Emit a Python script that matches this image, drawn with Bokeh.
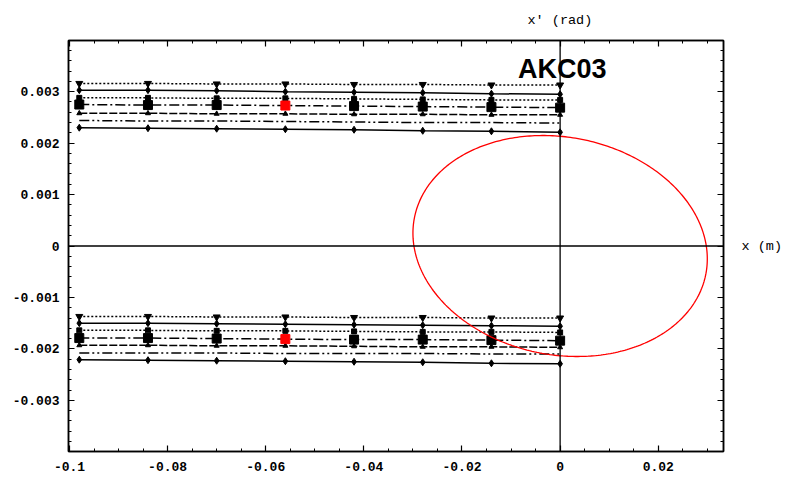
import numpy as np
from bokeh.plotting import figure
from bokeh.models import (Range1d, LinearAxis, SingleIntervalTicker, Span, Label, Title,
                          CustomJSTickFormatter, ColumnDataSource)
from bokeh.embed import file_html
from bokeh.resources import INLINE

# ---------------- data ----------------
x_pts = [-0.098, -0.084, -0.070, -0.056, -0.042, -0.028, -0.014, 0.0]

upper_A = [0.00316, 0.00316, 0.00315, 0.00315, 0.00314, 0.00314, 0.00313, 0.00313]
upper_B = [0.00303, 0.00303, 0.00302, 0.00300, 0.00299, 0.00298, 0.00296, 0.00295]
upper_C = [0.00288, 0.00288, 0.00287, 0.00287, 0.00286, 0.00285, 0.00284, 0.00284]
upper_D = [0.00275, 0.00274, 0.00274, 0.00273, 0.00272, 0.00271, 0.00270, 0.00269]
upper_E = [0.00258, 0.00258, 0.00257, 0.00257, 0.00256, 0.00256, 0.00255, 0.00255]
upper_F = [0.00244, 0.00243, 0.00243, 0.00242, 0.00241, 0.00240, 0.00240, 0.00239]
upper_G = [0.00230, 0.00229, 0.00228, 0.00227, 0.00226, 0.00224, 0.00223, 0.00221]

lower_A = [-0.00137, -0.00137, -0.00138, -0.00138, -0.00139, -0.00139, -0.00140, -0.00140]
lower_B = [-0.00150, -0.00150, -0.00151, -0.00152, -0.00153, -0.00154, -0.00155, -0.00156]
lower_C = [-0.00164, -0.00164, -0.00165, -0.00165, -0.00166, -0.00167, -0.00167, -0.00168]
lower_D = [-0.00179, -0.00179, -0.00180, -0.00181, -0.00182, -0.00182, -0.00183, -0.00184]
lower_E = [-0.00193, -0.00193, -0.00194, -0.00194, -0.00195, -0.00196, -0.00196, -0.00197]
lower_F = [-0.00208, -0.00208, -0.00208, -0.00209, -0.00209, -0.00209, -0.00210, -0.00210]
lower_G = [-0.00221, -0.00222, -0.00223, -0.00224, -0.00225, -0.00226, -0.00228, -0.00229]

highlight_index = 3  # red square at x = -0.056

# acceptance ellipse (Twiss parameters)
ellipse_emittance = 6.4e-5
ellipse_beta = 14.06
ellipse_alpha = 0.117

title_text = "AKC03"
x_label = "x (m)"
y_label = "x' (rad)"

# ---------------- figure ----------------
p = figure(width=787, height=478, output_backend="svg", toolbar_location=None,
           x_range=Range1d(-0.1002, 0.0333), y_range=Range1d(-0.003995, 0.003995),
           min_border_left=68, min_border_right=64, min_border_top=40,
           min_border_bottom=27, x_axis_location=None, y_axis_location=None)
p.background_fill_color = "white"
p.border_fill_color = "white"
p.grid.visible = False
p.outline_line_color = "black"
p.outline_line_width = 1.5

fmt = CustomJSTickFormatter(code="return String(parseFloat(tick.toFixed(6)));")
blank = CustomJSTickFormatter(code="return '';")

def style_axis(ax, labels):
    ax.axis_line_color = "black"
    ax.axis_line_width = 1.5
    ax.major_tick_in = 6
    ax.major_tick_out = 0
    ax.minor_tick_in = 3
    ax.minor_tick_out = 0
    ax.major_tick_line_width = 1.2
    ax.minor_tick_line_width = 1.0
    ax.major_label_text_font = "Liberation Mono"
    ax.major_label_text_font_style = "bold"
    ax.major_label_text_font_size = "13px"
    ax.major_label_text_color = "black"
    ax.formatter = fmt if labels else blank

for loc, lab in (("below", True), ("above", False)):
    ax = LinearAxis(ticker=SingleIntervalTicker(interval=0.02, num_minor_ticks=4))
    style_axis(ax, lab)
    ax.major_label_standoff = 10
    if not lab:
        ax.major_label_standoff = 0
        ax.major_label_text_font_size = "1px"
    p.add_layout(ax, loc)

for loc, lab in (("left", True), ("right", False)):
    ax = LinearAxis(ticker=SingleIntervalTicker(interval=0.001, num_minor_ticks=5))
    style_axis(ax, lab)
    ax.major_label_standoff = 9
    if not lab:
        ax.major_label_standoff = 0
        ax.major_label_text_font_size = "1px"
        ax.axis_label = x_label
        ax.axis_label_orientation = "horizontal"
        ax.axis_label_standoff = 18
        ax.axis_label_text_font = "Liberation Mono"
        ax.axis_label_text_font_style = "normal"
        ax.axis_label_text_font_size = "13.5px"
        ax.axis_label_text_color = "black"
    p.add_layout(ax, loc)

p.add_layout(Title(text=y_label, align="left", offset=459, text_font="Liberation Mono",
                   text_font_style="normal", text_font_size="13.5px", text_color="black",
                   standoff=22, vertical_align="top"), "above")

# axes through the origin
p.add_layout(Span(location=0, dimension="width", line_color="black", line_width=1.3))
p.add_layout(Span(location=0, dimension="height", line_color="black", line_width=1.3))

# ---------------- data lines ----------------
line_specs = [
    # (values, dash, marker, size)
    (upper_A, "2 2", "inverted_triangle", 7),
    (upper_B, "solid", "diamond", 7),
    (upper_C, "2 2", "square", 5),
    (upper_D, "10 3 2 3", None, 0),
    (upper_E, "8 2", "triangle", 5),
    (upper_F, "10 3 2 3 2 3", None, 0),
    (upper_G, "solid", "diamond", 7),
    (lower_A, "2 2", "inverted_triangle", 7),
    (lower_B, "solid", "diamond", 7),
    (lower_C, "2 2", "square", 5),
    (lower_D, "10 3 2 3", None, 0),
    (lower_E, "8 2", "triangle", 5),
    (lower_F, "10 3 2 3 2 3", None, 0),
    (lower_G, "solid", "diamond", 7),
]
for vals, dash, marker, size in line_specs:
    p.line(x_pts, vals, line_color="black", line_width=1.5, line_dash=dash)
    if marker:
        p.scatter(x_pts, vals, marker=marker, size=size, fill_color="black",
                  line_color="black")

# square markers on the dash-dot series
for vals in (upper_D, lower_D):
    colors = ["red" if i == highlight_index else "black" for i in range(len(x_pts))]
    src = ColumnDataSource(dict(x=x_pts, y=vals, c=colors))
    p.scatter("x", "y", source=src, marker="square", size=9,
              fill_color="c", line_color="c")

# ---------------- ellipse ----------------
t = np.linspace(0, 2 * np.pi, 361)
ex = np.sqrt(ellipse_emittance * ellipse_beta) * np.cos(t)
exp_ = -np.sqrt(ellipse_emittance / ellipse_beta) * (ellipse_alpha * np.cos(t) + np.sin(t))
p.line(ex, exp_, line_color="#ff0000", line_width=1.3)

# ---------------- labels ----------------
p.add_layout(Label(x=-0.0086, y=0.00345, text=title_text, text_font="Liberation Sans",
                   text_font_style="bold", text_font_size="27px", text_color="black",
                   text_baseline="alphabetic"))

open("out.html", "w").write(file_html(p, INLINE))
